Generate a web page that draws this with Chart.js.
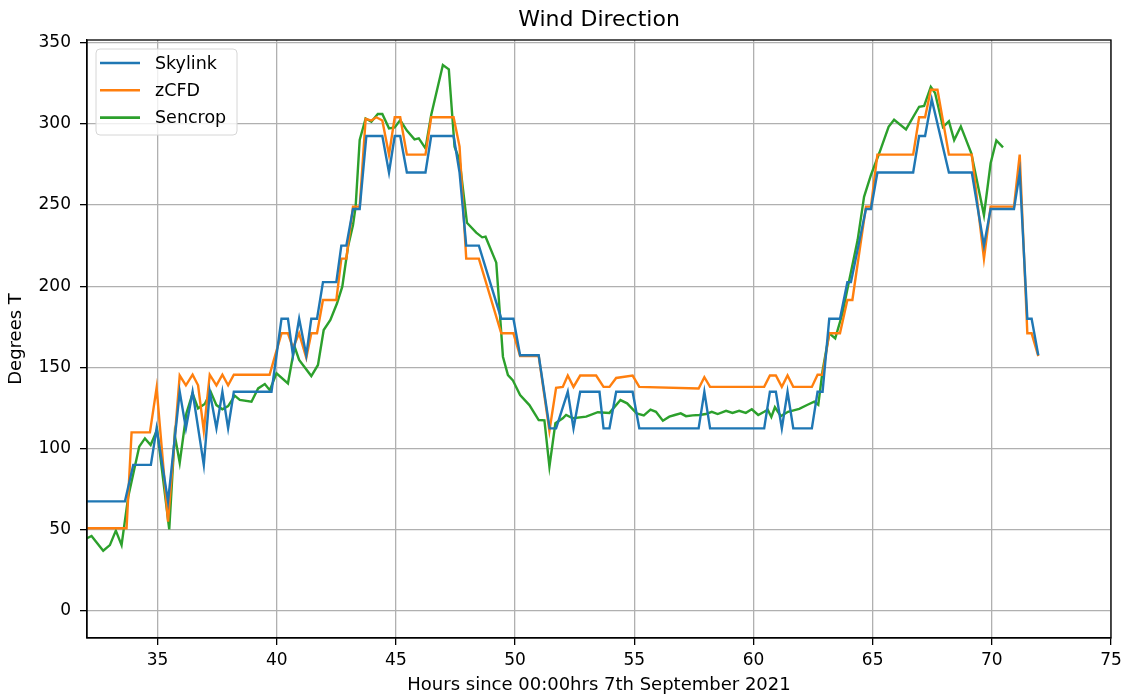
<!DOCTYPE html>
<html>
<head>
<meta charset="utf-8">
<script src="https://cdn.jsdelivr.net/npm/chart.js@4.4.1/dist/chart.umd.min.js"></script>
<style>
  html, body { margin: 0; padding: 0; background: #fff; }
</style>
</head>
<body>
<canvas id="grafica" width="1124" height="697"></canvas>
<script>

// [hour, degrees]
const skylink = [
  [32.04,67.5],[33.63,67.5],[33.98,90],[34.72,90],[34.96,112.5],[35.44,67.5],[35.93,135],[36.19,112.5],
  [36.47,135],[36.94,90],[37.19,135],[37.47,112.5],[37.72,135],[37.96,112.5],[38.2,135],[39.78,135],
  [40.2,180],[40.47,180],[40.68,157.5],[40.94,180],[41.24,157.5],[41.45,180],[41.69,180],[41.94,202.5],
  [42.5,202.5],[42.71,225],[42.92,225],[43.2,247.5],[43.48,247.5],[43.76,292.5],[44.43,292.5],[44.71,270],
  [44.95,292.5],[45.18,292.5],[45.46,270],[46.24,270],[46.48,292.5],[47.42,292.5],[47.67,270],[47.95,225],
  [48.48,225],[49.42,180],[49.93,180],[50.21,157.5],[50.99,157.5],[51.45,112.5],[51.72,112.5],[52.21,135],
  [52.45,112.5],[52.73,135],[53.54,135],[53.71,112.5],[53.96,112.5],[54.24,135],[54.93,135],[55.21,112.5],
  [57.7,112.5],[57.94,135],[58.18,112.5],[60.45,112.5],[60.69,135],[60.94,135],[61.19,112.5],[61.43,135],
  [61.67,112.5],[62.45,112.5],[62.69,135],[62.9,135],[63.18,180],[63.63,180],[63.94,202.5],[64.09,202.5],
  [64.72,247.5],[64.93,247.5],[65.2,270],[66.7,270],[66.95,292.5],[67.2,292.5],[67.48,315],[68.2,270],
  [69.16,270],[69.67,225],[69.95,247.5],[70.93,247.5],[71.17,270],[71.49,180],[71.67,180],[71.95,157.5]
]

const zcfd = [
  [32.04,51],[33.7,51],[33.91,110],[34.68,110],[34.96,137.5],[35.44,55],[35.93,145],[36.19,139],
  [36.47,145.5],[36.7,139],[36.94,111],[37.19,145.5],[37.47,139],[37.72,145.5],[37.96,139],[38.2,145.5],
  [39.7,145.5],[40.2,171],[40.47,171],[40.68,162],[40.94,171],[41.24,156],[41.45,171],[41.69,171],
  [41.94,191.5],[42.5,191.5],[42.71,217],[42.92,217],[43.2,249],[43.48,249],[43.73,303],[43.97,302],
  [44.18,304],[44.43,302],[44.71,281],[44.95,304],[45.18,304],[45.46,281],[46.24,281],[46.48,304],
  [47.42,304],[47.67,286],[47.95,217],[48.48,217],[49.42,171],[49.93,171],[50.21,157],[50.99,157],
  [51.44,111],[51.72,137.5],[52.0,138],[52.21,145],[52.45,138],[52.73,145],[53.4,145],[53.71,138],
  [53.96,138],[54.24,143.5],[54.93,145],[55.21,138],[57.7,137],[57.94,144],[58.18,138],[60.45,138],
  [60.69,145],[60.94,145],[61.19,138],[61.43,145],[61.67,138],[62.45,138],[62.69,145.5],[62.9,145.5],
  [63.18,171],[63.63,171],[63.94,191.5],[64.15,191.5],[64.72,249],[64.93,249],[65.2,281],[66.7,281],
  [66.95,304],[67.2,304],[67.44,321],[67.72,321],[68.2,281],[69.16,281],[69.67,217],[69.95,249],
  [70.93,249],[71.17,281],[71.49,171],[71.67,171],[71.95,157]
]

const sencrop = [
  [32.04,44.8],[32.23,46.2],[32.72,37.1],[33.0,40.6],[33.25,49.5],[33.49,40.6],[33.77,70.4],[34.23,101.2],
  [34.47,106.3],[34.71,102.2],[34.98,111.5],[35.49,50.3],[35.72,108.4],[35.93,91.3],[36.21,121.7],[36.47,134],
  [36.7,124.8],[36.98,127.5],[37.23,135],[37.47,126.8],[37.72,124.2],[37.96,126.2],[38.24,132.6],[38.45,130],
  [38.94,128.9],[39.22,137.1],[39.5,139.8],[39.71,136],[39.99,146.4],[40.47,140.2],[40.75,162.7],[40.94,154.6],
  [41.45,144.7],[41.73,151.5],[41.97,173],[42.25,179.2],[42.53,189.5],[42.75,199.7],[42.99,224.3],[43.2,237.7],
  [43.31,249],[43.48,290],[43.73,303.3],[43.97,301.3],[44.24,306],[44.43,306],[44.71,297.2],[44.95,297.8],
  [45.18,302.3],[45.46,295.8],[45.78,290.4],[45.96,291],[46.24,284.9],[46.48,305.4],[46.97,336.2],[47.22,333.5],
  [47.46,285.9],[47.67,277.7],[47.98,239.1],[48.37,233],[48.62,230.1],[48.76,230.5],[49.21,214.5],[49.49,156.6],
  [49.7,145.3],[49.9,142.2],[50.21,133],[50.6,126.8],[50.99,117.6],[51.23,117.4],[51.44,88.9],[51.69,115.6],
  [52.0,118.7],[52.14,120.7],[52.42,118.7],[52.98,119.7],[53.47,122.4],[53.96,122],[54.42,129.9],[54.7,127.9],
  [55.1,121.7],[55.4,120.5],[55.68,124],[55.91,122.7],[56.2,117.2],[56.47,119.7],[56.7,120.7],[56.95,121.7],
  [57.17,120],[57.45,120.5],[57.73,120.7],[58.0,121.3],[58.25,122.7],[58.5,121.3],[58.85,123.3],[59.12,122],
  [59.4,123.3],[59.68,122],[59.93,124.2],[60.2,120.7],[60.45,122.7],[60.6,124],[60.75,119.5],[60.9,125.5],
  [61.15,120],[61.45,122.7],[61.92,124.5],[62.27,127],[62.55,128.9],[62.72,127],[62.9,148],[63.18,171],
  [63.43,167.9],[63.73,183],[64.02,203.8],[64.37,228.4],[64.64,255],[64.93,268.5],[65.28,282],[65.67,298.2],
  [65.9,302.5],[66.4,296.6],[66.95,310.5],[67.16,311],[67.44,322.8],[67.62,319],[67.95,298],[68.2,301.5],
  [68.42,290],[68.7,298.4],[69.14,281.8],[69.67,243.8],[69.95,275.7],[70.19,289.8],[70.47,285.5]
]

const series = ["Skylink", "zCFD", "Sencrop"]
const colores = ["#1f77b4", "#ff7f0e", "#2ca02c"]
const xTicks = [35, 40, 45, 50, 55, 60, 65, 70, 75]
const yTicks = [0, 50, 100, 150, 200, 250, 300, 350]
const titulo = 'Wind Direction'

const fuente = "'DejaVu Sans', sans-serif"

const aPuntos = (array) => array.map(p => ({ x: p[0], y: p[1] }))

// title over the plot area, frame on all four sides, legend box upper left
const marcoYLeyenda = {
  id: 'marcoYLeyenda',
  afterDraw(chart) {
    const ctx = chart.ctx
    const a = chart.chartArea
    ctx.save()
    ctx.strokeStyle = '#000'
    ctx.lineWidth = 1.3
    ctx.strokeRect(a.left, a.top, a.right - a.left, a.bottom - a.top)

    ctx.fillStyle = '#000'
    ctx.font = "22px " + fuente
    ctx.textAlign = 'center'
    ctx.textBaseline = 'middle'
    ctx.fillText(titulo, (a.left + a.right) / 2, 20)

    const bx = 96, by = 49, bw = 141, bh = 86, r = 4
    ctx.beginPath()
    ctx.roundRect(bx, by, bw, bh, r)
    ctx.fillStyle = 'rgba(255,255,255,0.8)'
    ctx.fill()
    ctx.strokeStyle = '#d6d6d6'
    ctx.lineWidth = 1
    ctx.stroke()

    ctx.font = "17.5px " + fuente
    ctx.textAlign = 'left'
    ctx.fillStyle = '#000'
    chart.data.datasets.forEach((ds, i) => {
      const y = 63 + i * 27.3
      ctx.beginPath()
      ctx.strokeStyle = ds.borderColor
      ctx.lineWidth = 2.6
      ctx.moveTo(100, y)
      ctx.lineTo(140, y)
      ctx.stroke()
      ctx.fillText(ds.label, 155, y + 1)
    })
    ctx.restore()
  }
}

const datasets = [skylink, zcfd, sencrop].map((s, i) => ({
  label: series[i],
  data: aPuntos(s),
  borderColor: colores[i],
  backgroundColor: colores[i],
  borderWidth: 2.4,
  pointRadius: 0,
  tension: 0,
  fill: false
}))

Chart.defaults.font.family = fuente
Chart.defaults.color = '#000'

new Chart(document.getElementById('grafica').getContext('2d'), {
  type: 'line',
  data: { datasets: datasets },
  options: {
    responsive: false,
    animation: false,
    events: [],
    layout: { padding: { left: 0, right: 13, top: 40, bottom: 0 } },
    plugins: {
      legend: { display: false },
      tooltip: { enabled: false },
      title: { display: false }
    },
    scales: {
      x: {
        type: 'linear',
        min: 32.04,
        max: 75,
        afterBuildTicks: (scale) => { scale.ticks = xTicks.map(v => ({ value: v })) },
        afterFit: (scale) => {
          scale.height = 59
          scale.paddingLeft = 0
          scale.paddingRight = 0
        },
        ticks: { font: { size: 17 }, padding: 5, maxRotation: 0, callback: v => v },
        grid: { color: '#b0b0b0', lineWidth: 1.3, tickLength: 7, tickColor: '#000' },
        border: { color: '#000', width: 1.3 },
        title: {
          display: true,
          text: 'Hours since 00:00hrs 7th September 2021',
          font: { size: 18 },
          padding: { top: 0, bottom: 1 }
        }
      },
      y: {
        min: -16.6,
        max: 351.6,
        afterBuildTicks: (scale) => { scale.ticks = yTicks.map(v => ({ value: v })) },
        afterFit: (scale) => {
          scale.width = 87
          scale.paddingTop = 0
          scale.paddingBottom = 0
        },
        ticks: { font: { size: 17 }, padding: 9, callback: v => v },
        grid: { color: '#b0b0b0', lineWidth: 1.3, tickLength: 7, tickColor: '#000' },
        border: { color: '#000', width: 1.3 },
        title: {
          display: true,
          text: 'Degrees T',
          font: { size: 18 },
          padding: { top: 6, bottom: 0 }
        }
      }
    }
  },
  plugins: [marcoYLeyenda]
})
</script>
</body>
</html>
